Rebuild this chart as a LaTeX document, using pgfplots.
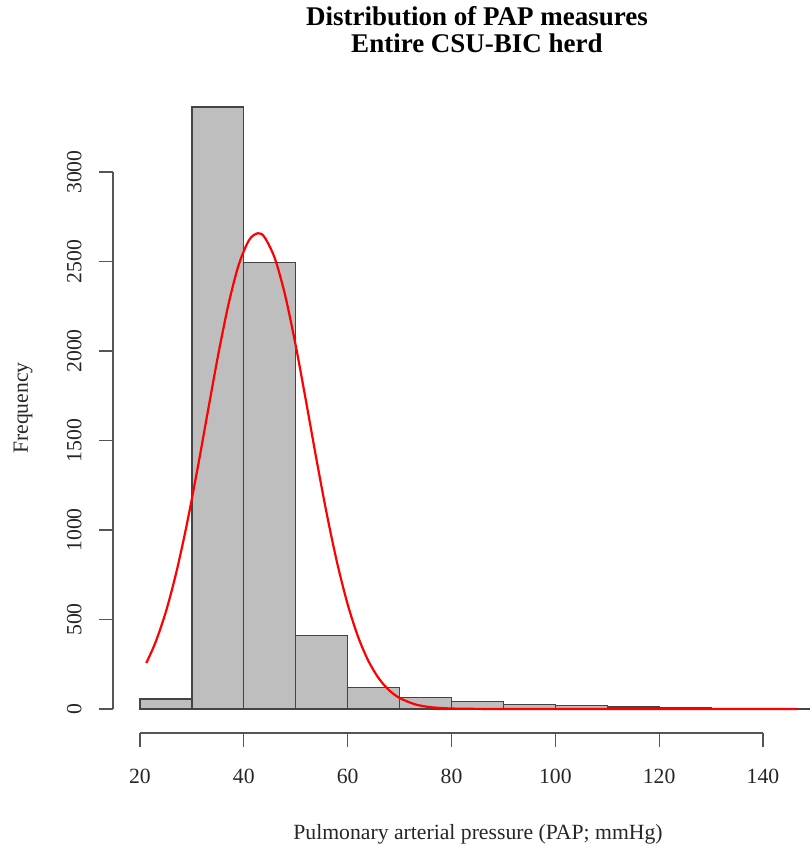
\documentclass[border=0pt]{standalone}
\usepackage{pgfplots}
\pgfplotsset{compat=1.18}
\usepackage{fontspec}
\setmainfont{Liberation Serif}
\definecolor{barfill}{HTML}{BEBEBE}
\definecolor{bardraw}{HTML}{444444}
\definecolor{axisgray}{HTML}{555555}
\begin{document}
\begin{tikzpicture}
\useasboundingbox (-113pt,-113pt) rectangle (696pt,733pt);
\begin{axis}[
  at={(0pt,0pt)}, anchor=south west,
  scale only axis, width=696pt, height=650pt,
  xmin=14.8, xmax=148.86, ymin=-134.5, ymax=3497.5,
  axis x line*=bottom, axis y line*=left,
  axis line style={draw=none},
  clip=false,
  xtick={20,40,...,140}, ytick={0,500,...,3000},
  tick align=outside, major tick length=13.5pt,
  tick style={axisgray, line width=1.3pt},
  every tick label/.append style={font=\fontsize{21.7}{26}\selectfont, text=black!85},
  /pgf/number format/assume math mode=true,
  /pgf/number format/set thousands separator={},
  yticklabel style={rotate=90, anchor=base},
  xticklabel style={anchor=base},
  xticklabel shift=36.5pt,
  yticklabel shift=18pt,
]
\addplot[ybar interval, fill=barfill, draw=bardraw, line width=1.2pt] coordinates {
  (20,56) (30,3363) (40,2496) (50,410) (60,118) (70,62) (80,40) (90,24)
  (100,18) (110,11) (120,5) (130,3) (140,2) (150,2)
};
\addplot[red, line width=2.2pt, smooth, no markers] coordinates {
  (21.2,256.3) (23,372.9) (25,544.4) (27,763.6) (29,1028.2) (31,1329.6)
  (33,1650.9) (35,1969.1) (37,2255.1) (39,2480.2) (41,2619.4) (42.7,2658)
  (44,2635.4) (46,2515.5) (48,2305.9) (50,2029.6) (52,1715.8) (54,1392.8)
  (56,1085.8) (58,812.8) (60,584.5) (62,403.5) (64,267.7) (66,170.4)
  (68,104.1) (70,61.2) (73,25.5) (76,9.7) (80,2.3) (85,0.3) (90,0.03)
  (100,0) (120,0) (146.6,0)
};
\draw[axisgray, line width=1.3pt] (axis cs:20,-134.5) -- (axis cs:140,-134.5);
\draw[axisgray, line width=1.3pt] (axis cs:14.8,0) -- (axis cs:14.8,3000);
\end{axis}
\node[anchor=base, font=\fontsize{27}{32}\selectfont\bfseries] at (364pt,707pt) {Distribution of PAP measures};
\node[anchor=base, font=\fontsize{27}{32}\selectfont\bfseries] at (364pt,680pt) {Entire CSU-BIC herd};
\node[anchor=base, font=\fontsize{21.7}{26}\selectfont, text=black!85] at (365pt,-106pt) {Pulmonary arterial pressure (PAP; mmHg)};
\node[anchor=base, rotate=90, font=\fontsize{21.7}{26}\selectfont, text=black!85] at (-85pt,325pt) {Frequency};
\end{tikzpicture}
\end{document}
